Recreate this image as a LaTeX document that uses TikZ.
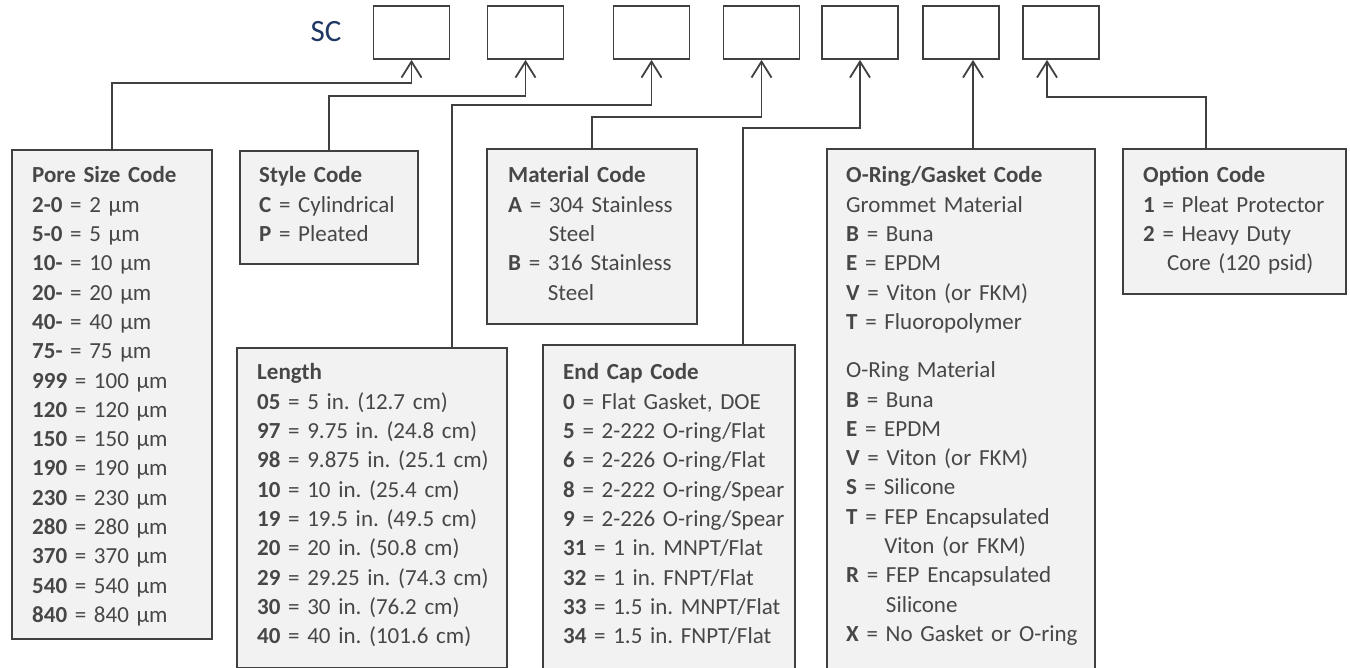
\documentclass[tikz,border=0pt]{standalone}
\usepackage{fontspec}
\setmainfont{Carlito}
\usepackage{xcolor}
\usetikzlibrary{arrows.meta,positioning}
\definecolor{linegray}{HTML}{404040}
\definecolor{boxgray}{HTML}{F2F2F2}
\definecolor{textgray}{HTML}{474747}
\definecolor{scblue}{HTML}{1F3864}
\frenchspacing

\begin{document}
\begin{tikzpicture}[
    x=1pt, y=-1pt,
    codebox/.style={rectangle, draw=linegray, line width=1.8pt, fill=white, minimum width=76pt, minimum height=53pt, inner sep=0pt},
    panel/.style={rectangle, draw=linegray, line width=1.8pt, fill=boxgray, anchor=north west, inner sep=0pt},
    listing/.style={anchor=base west, inner sep=0pt, align=left, text=textgray, text width=#1, font=\fontsize{23}{29.3}\selectfont},
    link/.style={draw=linegray, line width=1.8pt, -{Straight Barb[length=16pt, width=20pt]}}
]
    \useasboundingbox (0,0) rectangle (1350,668);

    % part number fields
    \node[text=scblue, font=\fontsize{31}{31}\selectfont, inner sep=0pt] (scLabel) at (326,32) {SC};
    \node[codebox] (code1) at (411.5,32.5) {};
    \node[codebox] (code2) at (525.5,32.5) {};
    \node[codebox] (code3) at (651.5,32.5) {};
    \node[codebox] (code4) at (761.5,32.5) {};
    \node[codebox] (code5) at (860,32.5) {};
    \node[codebox] (code6) at (961,32.5) {};
    \node[codebox] (code7) at (1061,32.5) {};

    % legend panels
    \node[panel, minimum width=200pt, minimum height=489pt] (poreBox) at (11,149) {};
    \node[panel, minimum width=178pt, minimum height=113pt] (styleBox) at (239,150) {};
    \node[panel, minimum width=270pt, minimum height=320pt] (lenBox) at (236,347) {};
    \node[panel, minimum width=210pt, minimum height=175pt] (matBox) at (486,148) {};
    \node[panel, minimum width=252pt, minimum height=330pt] (capBox) at (542,344) {};
    \node[panel, minimum width=268pt, minimum height=530pt] (ringBox) at (826,148) {};
    \node[panel, minimum width=223pt, minimum height=145pt] (optBox) at (1122,148) {};

    \node[listing=175pt] (poreText) at ([shift={(21,34)}]poreBox.north west) {\textbf{Pore Size Code}\\
        \textbf{2-0} = 2 µm\\ \textbf{5-0} = 5 µm\\ \textbf{10-} = 10 µm\\ \textbf{20-} = 20 µm\\
        \textbf{40-} = 40 µm\\ \textbf{75-} = 75 µm\\ \textbf{999} = 100 µm\\ \textbf{120} = 120 µm\\
        \textbf{150} = 150 µm\\ \textbf{190} = 190 µm\\ \textbf{230} = 230 µm\\ \textbf{280} = 280 µm\\
        \textbf{370} = 370 µm\\ \textbf{540} = 540 µm\\ \textbf{840} = 840 µm};
    \node[listing=155pt] (styleText) at ([shift={(20,33)}]styleBox.north west) {\textbf{Style Code}\\
        \textbf{C} = Cylindrical\\ \textbf{P} = Pleated};
    \node[listing=250pt] (lenText) at ([shift={(21,33)}]lenBox.north west) {\textbf{Length}\\
        \textbf{05} = 5 in. (12.7 cm)\\ \textbf{97} = 9.75 in. (24.8 cm)\\ \textbf{98} = 9.875 in. (25.1 cm)\\
        \textbf{10} = 10 in. (25.4 cm)\\ \textbf{19} = 19.5 in. (49.5 cm)\\ \textbf{20} = 20 in. (50.8 cm)\\
        \textbf{29} = 29.25 in. (74.3 cm)\\ \textbf{30} = 30 in. (76.2 cm)\\ \textbf{40} = 40 in. (101.6 cm)};
    \node[listing=185pt] (matText) at ([shift={(22,35)}]matBox.north west) {\textbf{Material Code}\\
        \textbf{A} = 304 Stainless\\ \phantom{\textbf{A} = }Steel\\
        \textbf{B} = 316 Stainless\\ \phantom{\textbf{B} = }Steel};
    \node[listing=240pt] (capText) at ([shift={(21,36)}]capBox.north west) {\textbf{End Cap Code}\\
        \textbf{0} = Flat Gasket, DOE\\ \textbf{5} = 2-222 O-ring/Flat\\ \textbf{6} = 2-226 O-ring/Flat\\
        \textbf{8} = 2-222 O-ring/Spear\\ \textbf{9} = 2-226 O-ring/Spear\\ \textbf{31} = 1 in. MNPT/Flat\\
        \textbf{32} = 1 in. FNPT/Flat\\ \textbf{33} = 1.5 in. MNPT/Flat\\ \textbf{34} = 1.5 in. FNPT/Flat};
    \node[listing=245pt] (ringText) at ([shift={(20,35)}]ringBox.north west) {\textbf{O-Ring/Gasket Code}\\
        Grommet Material\\ \textbf{B} = Buna\\ \textbf{E} = EPDM\\ \textbf{V} = Viton (or FKM)\\
        \textbf{T} = Fluoropolymer\\[19pt]
        O-Ring Material\\ \textbf{B} = Buna\\ \textbf{E} = EPDM\\ \textbf{V} = Viton (or FKM)\\
        \textbf{S} = Silicone\\ \textbf{T} = FEP Encapsulated\\ \phantom{\textbf{T} = }Viton (or FKM)\\
        \textbf{R} = FEP Encapsulated\\ \phantom{\textbf{R} = }Silicone\\ \textbf{X} = No Gasket or O-ring};
    \node[listing=200pt] (optText) at ([shift={(21,35)}]optBox.north west) {\textbf{Option Code}\\
        \textbf{1} = Pleat Protector\\ \textbf{2} = Heavy Duty\\ \hspace*{24pt}Core (120 psid)};

    % connectors
    \draw[link] (poreBox.north) -- ++(0,-66) -| (code1.south);
    \draw[link] (styleBox.north) -- ++(0,-54) -| (code2.south);
    \draw[link] ([xshift=216pt]lenBox.north west) -- ++(0,-242) -| (code3.south);
    \draw[link] (matBox.north) -- ++(0,-31) -| (code4.south);
    \draw[link] ([xshift=201pt]capBox.north west) -- ++(0,-216) -| (code5.south);
    \draw[link] ([xshift=147pt]ringBox.north west) -- ([xshift=12pt]code6.south);
    \draw[link] ([xshift=84pt]optBox.north west) -- ++(0,-51) -| ([xshift=-14pt]code7.south);
\end{tikzpicture}
\end{document}
